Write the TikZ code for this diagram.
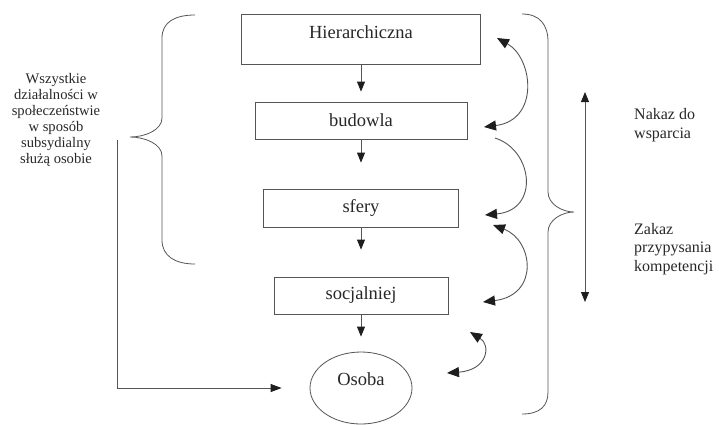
\documentclass[tikz,border=0pt]{standalone}
\usepackage{fontspec}
\setmainfont{Liberation Serif}
\usepackage{tikz}
\usetikzlibrary{positioning, shapes, arrows.meta}
\definecolor{InkGray}{RGB}{85, 85, 85}
\definecolor{TextGray}{RGB}{40, 40, 40}
\definecolor{TipGray}{RGB}{30, 30, 30}

\begin{document}
\begin{tikzpicture}[x=1pt, y=-1pt,
    level/.style={draw=InkGray, line width=0.8pt, inner sep=0pt, text=TextGray, font=\fontsize{18.5}{22}\selectfont},
    down/.style={draw=InkGray, line width=0.8pt, -{Triangle[length=10pt, width=8pt, color=TipGray]}},
    twoway/.style={draw=InkGray, line width=0.9pt, {Triangle[length=12pt, width=10pt, color=TipGray]}-{Triangle[length=12pt, width=10pt, color=TipGray]}},
    oneway/.style={draw=InkGray, line width=0.9pt, -{Triangle[length=12pt, width=10pt, color=TipGray]}},
    brace/.style={draw=InkGray, line width=0.8pt},
    sidetext/.style={text=TextGray, inner sep=0pt, font=\fontsize{14.6}{16}\selectfont},
    righttext/.style={text=TextGray, inner sep=0pt, align=left, anchor=west, font=\fontsize{16}{18.5}\selectfont}]

    \fill[white] (0,0) rectangle (719,424);
    \useasboundingbox (0,0) rectangle (719,424);

    % Levels
    \node[level, minimum width=239pt, minimum height=50pt, text height=12pt, text depth=14pt] (hier) at (361,39) {Hierarchiczna};
    \node[level, minimum width=212pt, minimum height=37pt] (bud) at (361,120.5) {budowla};
    \node[level, minimum width=195pt, minimum height=38pt] (sfery) at (361,208) {sfery};
    \node[level, minimum width=174pt, minimum height=37pt] (socj) at (361,295.5) {socjalniej};
    \node[level, ellipse, minimum width=102pt, minimum height=72pt, text height=12pt, text depth=18pt] (osoba) at (361,388) {Osoba};

    % Downward arrows
    \draw[down, shorten >=10pt] (hier) -- (bud);
    \draw[down, shorten >=26pt] (bud) -- (sfery);
    \draw[down, shorten >=27pt] (sfery) -- (socj);
    \draw[down, shorten >=15pt] (socj) -- (osoba);

    % Left brace and text
    \draw[brace] (195,15) .. controls (175,15) and (162,22) .. (162,38) -- (162,118)
        .. controls (162,130) and (145,137) .. (130,137)
        .. controls (145,137) and (162,144) .. (162,156) -- (162,240)
        .. controls (162,256) and (175,264) .. (195,264);
    \node[sidetext, align=center] (wszystkie) at (56,120) {Wszystkie\\działalności w\\społeczeństwie\\w sposób\\subsydialny\\służą osobie};
    \coordinate (lstart) at (117,140);
    \draw[down, -{Triangle[length=11pt, width=8pt, color=TipGray]}, shorten >=28pt] (lstart) |- (osoba);

    % Curved arrows
    \coordinate (c1a) at (497,38);
    \coordinate (c1b) at (484,127);
    \coordinate (c2a) at (495,138);
    \coordinate (c2b) at (485,215);
    \coordinate (c3a) at (493,225);
    \coordinate (c3b) at (483,302);
    \coordinate (c4a) at (470,332);
    \coordinate (c4b) at (447,373);
    \draw[twoway] (c1a) .. controls (533,58) and (540,120) .. (c1b);
    \draw[oneway] (c2a) .. controls (533,150) and (540,210) .. (c2b);
    \draw[twoway] (c3a) .. controls (533,240) and (540,295) .. (c3b);
    \draw[twoway] (c4a) .. controls (491,345) and (488,370) .. (c4b);

    % Right brace
    \draw[brace] (522,14) .. controls (540,14) and (548,25) .. (548,42) -- (548,192)
        .. controls (548,204) and (562,212) .. (574,212)
        .. controls (562,212) and (548,220) .. (548,232) -- (548,392)
        .. controls (548,406) and (540,414) .. (522,414);

    % Vertical arrow and right texts
    \coordinate (vtop) at (585,92);
    \coordinate (vbot) at (585,302);
    \draw[draw=InkGray, line width=0.8pt, {Triangle[length=10pt, width=8pt, color=TipGray]}-{Triangle[length=10pt, width=8pt, color=TipGray]}] (vtop) -- (vbot);
    \node[righttext] (nakaz) at (634,125) {Nakaz do\\wsparcia};
    \node[righttext] (zakaz) at (634,249) {Zakaz\\przypysania\\kompetencji};
\end{tikzpicture}
\end{document}
